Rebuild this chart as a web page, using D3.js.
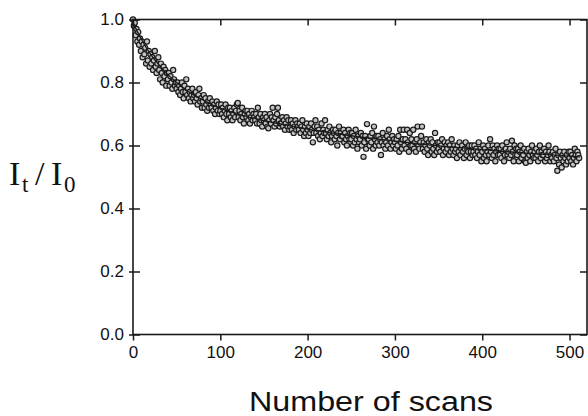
<!DOCTYPE html>
<html>
<head>
<meta charset="utf-8">
<script src="https://cdn.jsdelivr.net/npm/d3@7"></script>
<style>
  body { margin: 0; background: #fff; }
</style>
</head>
<body>
<script>
// measured ratio I_t / I_0 for each scan, starting at scan 0
var intensity = [
  1.00, 0.98, 0.99, 0.95, 0.97, 0.93, 0.96, 0.92, 0.94, 0.90,
  0.93, 0.88, 0.92, 0.89, 0.91, 0.86, 0.93, 0.87, 0.90, 0.85,
  0.89, 0.86, 0.88, 0.84, 0.87, 0.90, 0.85, 0.83, 0.86, 0.88,
  0.84, 0.81, 0.86, 0.83, 0.80, 0.85, 0.82, 0.84, 0.79, 0.83,
  0.81, 0.83, 0.79, 0.82, 0.80, 0.78, 0.84, 0.81, 0.79, 0.80,
  0.78, 0.80, 0.77, 0.79, 0.76, 0.78, 0.80, 0.77, 0.75, 0.79,
  0.77, 0.81, 0.76, 0.78, 0.75, 0.77, 0.74, 0.76, 0.78, 0.75,
  0.76, 0.74, 0.77, 0.75, 0.73, 0.76, 0.78, 0.74, 0.75, 0.72,
  0.74, 0.76, 0.72, 0.75, 0.73, 0.71, 0.74, 0.72, 0.75, 0.73,
  0.72, 0.74, 0.71, 0.73, 0.70, 0.72, 0.74, 0.71, 0.73, 0.70,
  0.71, 0.73, 0.70, 0.72, 0.69, 0.71, 0.73, 0.70, 0.68, 0.72,
  0.70, 0.72, 0.69, 0.71, 0.68, 0.70, 0.72, 0.69, 0.71, 0.73,
  0.735, 0.69, 0.71, 0.68, 0.70, 0.72, 0.69, 0.67, 0.70, 0.71,
  0.69, 0.71, 0.68, 0.70, 0.67, 0.69, 0.71, 0.68, 0.70, 0.69,
  0.68, 0.70, 0.67, 0.72, 0.69, 0.67, 0.70, 0.68, 0.66, 0.69,
  0.68, 0.70, 0.67, 0.69, 0.66, 0.655, 0.68, 0.70, 0.67, 0.69,
  0.72, 0.68, 0.66, 0.69, 0.67, 0.70, 0.72, 0.68, 0.66, 0.67,
  0.67, 0.69, 0.66, 0.68, 0.65, 0.67, 0.69, 0.66, 0.68, 0.65,
  0.66, 0.68, 0.65, 0.67, 0.64, 0.66, 0.68, 0.65, 0.67, 0.66,
  0.65, 0.67, 0.64, 0.66, 0.68, 0.65, 0.63, 0.66, 0.64, 0.67,
  0.65, 0.63, 0.66, 0.64, 0.67, 0.65, 0.61, 0.64, 0.66, 0.68,
  0.64, 0.66, 0.63, 0.65, 0.62, 0.64, 0.67, 0.63, 0.65, 0.64,
  0.68, 0.64, 0.62, 0.65, 0.63, 0.66, 0.64, 0.61, 0.63, 0.65,
  0.64, 0.62, 0.65, 0.63, 0.60, 0.64, 0.66, 0.62, 0.64, 0.63,
  0.63, 0.65, 0.61, 0.64, 0.62, 0.60, 0.63, 0.65, 0.62, 0.64,
  0.62, 0.64, 0.60, 0.63, 0.61, 0.65, 0.62, 0.59, 0.63, 0.61,
  0.62, 0.64, 0.60, 0.63, 0.564, 0.61, 0.63, 0.59, 0.668, 0.62,
  0.62, 0.60, 0.63, 0.61, 0.64, 0.59, 0.66, 0.62, 0.60, 0.63,
  0.61, 0.63, 0.60, 0.62, 0.57, 0.61, 0.64, 0.60, 0.62, 0.59,
  0.61, 0.63, 0.60, 0.65, 0.62, 0.59, 0.61, 0.63, 0.60, 0.62,
  0.61, 0.59, 0.62, 0.60, 0.63, 0.58, 0.65, 0.61, 0.59, 0.62,
  0.65, 0.60, 0.62, 0.59, 0.65, 0.61, 0.58, 0.64, 0.60, 0.62,
  0.60, 0.65, 0.59, 0.61, 0.58, 0.62, 0.66, 0.60, 0.59, 0.61,
  0.63, 0.66, 0.59, 0.61, 0.58, 0.60, 0.62, 0.59, 0.57, 0.61,
  0.60, 0.62, 0.58, 0.61, 0.59, 0.57, 0.64, 0.60, 0.58, 0.61,
  0.59, 0.61, 0.58, 0.60, 0.62, 0.57, 0.59, 0.61, 0.58, 0.60,
  0.59, 0.61, 0.57, 0.60, 0.58, 0.62, 0.59, 0.57, 0.60, 0.58,
  0.59, 0.56, 0.60, 0.58, 0.61, 0.57, 0.59, 0.60, 0.58, 0.56,
  0.59, 0.61, 0.57, 0.59, 0.58, 0.60, 0.56, 0.58, 0.60, 0.57,
  0.58, 0.60, 0.57, 0.59, 0.56, 0.58, 0.61, 0.57, 0.59, 0.55,
  0.58, 0.60, 0.56, 0.59, 0.57, 0.55, 0.58, 0.60, 0.57, 0.62,
  0.58, 0.56, 0.60, 0.57, 0.59, 0.55, 0.58, 0.60, 0.57, 0.59,
  0.57, 0.59, 0.56, 0.60, 0.58, 0.55, 0.57, 0.59, 0.61, 0.57,
  0.58, 0.56, 0.59, 0.57, 0.615, 0.58, 0.55, 0.60, 0.57, 0.59,
  0.57, 0.59, 0.55, 0.58, 0.60, 0.56, 0.58, 0.57, 0.59, 0.55,
  0.545, 0.58, 0.56, 0.59, 0.57, 0.55, 0.58, 0.60, 0.57, 0.56,
  0.58, 0.56, 0.59, 0.57, 0.55, 0.58, 0.60, 0.56, 0.58, 0.57,
  0.57, 0.59, 0.55, 0.58, 0.56, 0.57, 0.60, 0.58, 0.55, 0.57,
  0.56, 0.58, 0.55, 0.57, 0.59, 0.56, 0.52, 0.57, 0.54, 0.58,
  0.56, 0.53, 0.57, 0.55, 0.58, 0.56, 0.54, 0.57, 0.55, 0.58,
  0.56, 0.58, 0.55, 0.57, 0.54, 0.56, 0.59, 0.57, 0.55, 0.58,
  0.57, 0.56
];

// fitted decay curve, read at a few scan numbers
var fitScans = [0, 10, 20, 30, 40, 50, 60, 70, 80, 90, 100, 120, 140, 160, 180, 200,
                225, 250, 275, 300, 325, 350, 375, 400, 425, 450, 475, 500, 512];
var fitValues = [0.99, 0.935, 0.89, 0.855, 0.825, 0.80, 0.778, 0.76, 0.745, 0.73, 0.718,
                 0.70, 0.685, 0.673, 0.662, 0.652, 0.641, 0.631, 0.622, 0.614, 0.606,
                 0.599, 0.593, 0.587, 0.581, 0.576, 0.571, 0.566, 0.564];

var xTicks = [0, 100, 200, 300, 400, 500];
var yTicks = [0.0, 0.2, 0.4, 0.6, 0.8, 1.0];

var width = 588;
var height = 416;

var svg = d3.select("body").append("svg")
    .attr("width", width)
    .attr("height", height)
    .style("background-color", "#fff");

var plot = {left: 133, right: 587, top: 19.5, bottom: 334.5};   // frame edges in pixels

var x = d3.scaleLinear().domain([0, 520]).range([plot.left, plot.right]);
var y = d3.scaleLinear().domain([0, 1]).range([plot.bottom, plot.top]);

var ink = "#1a1a1a";

// data points
svg.append("g")
  .selectAll("circle")
  .data(intensity)
  .join("circle")
    .attr("cx", function(d, i){ return x(i); })
    .attr("cy", function(d){ return y(d); })
    .attr("r", 2.6)
    .attr("fill", "#c4c4c4")
    .attr("stroke", ink)
    .attr("stroke-width", 1.2);

// fit line on top of the points
var fit = d3.line()
    .x(function(d){ return x(d); })
    .y(function(d, i){ return y(fitValues[i]); })
    .curve(d3.curveMonotoneX);

svg.append("path")
    .attr("d", fit(fitScans))
    .attr("fill", "none")
    .attr("stroke", ink)
    .attr("stroke-width", 1.3);

// frame
svg.append("rect")
    .attr("x", plot.left)
    .attr("y", plot.top)
    .attr("width", plot.right - plot.left)
    .attr("height", plot.bottom - plot.top)
    .attr("fill", "none")
    .attr("stroke", ink)
    .attr("stroke-width", 1.6);

// axes: bottom/left carry labels, top/right just ticks
var font = "'Liberation Sans', Arial, Helvetica, sans-serif";

var bottomAxis = svg.append("g")
    .attr("transform", "translate(0," + plot.bottom + ")")
    .call(d3.axisBottom(x).tickValues(xTicks).tickSize(6).tickPadding(5).tickFormat(d3.format("d")));

var leftAxis = svg.append("g")
    .attr("transform", "translate(" + plot.left + ",0)")
    .call(d3.axisLeft(y).tickValues(yTicks).tickSize(-7).tickPadding(9).tickFormat(d3.format(".1f")));

var topAxis = svg.append("g")
    .attr("transform", "translate(0," + plot.top + ")")
    .call(d3.axisTop(x).tickValues(xTicks).tickSize(-6).tickFormat(""));

var rightAxis = svg.append("g")
    .attr("transform", "translate(" + plot.right + ",0)")
    .call(d3.axisRight(y).tickValues(yTicks).tickSize(-7).tickFormat(""));

[bottomAxis, leftAxis, topAxis, rightAxis].forEach(function(g){
    g.select(".domain").remove();
    g.selectAll(".tick line").attr("stroke", ink).attr("stroke-width", 1.5);
    g.selectAll(".tick text")
        .attr("fill", "#111")
        .style("font-family", font)
        .style("font-size", "17px");
});

// left ticks also poke out a little
leftAxis.selectAll(".tick line").attr("x1", -4);

// axis titles
svg.append("text")
    .attr("x", 249)
    .attr("y", 411)
    .attr("textLength", 244)
    .attr("lengthAdjust", "spacingAndGlyphs")
    .style("font-family", font)
    .style("font-size", "27px")
    .attr("fill", "#111")
    .text("Number of scans");

var ylab = svg.append("text")
    .attr("y", 185)
    .style("font-family", "'Liberation Serif', 'Times New Roman', serif")
    .attr("fill", "#111");
ylab.append("tspan").attr("x", 9).style("font-size", "34px").text("I");
ylab.append("tspan").attr("x", 22).attr("dy", 7).style("font-size", "23px").text("t");
ylab.append("tspan").attr("x", 35).attr("dy", -7).style("font-size", "34px").text("/");
ylab.append("tspan").attr("x", 51).style("font-size", "34px").text("I");
ylab.append("tspan").attr("x", 64).attr("dy", 7).style("font-size", "23px").text("0");
</script>
</body>
</html>
